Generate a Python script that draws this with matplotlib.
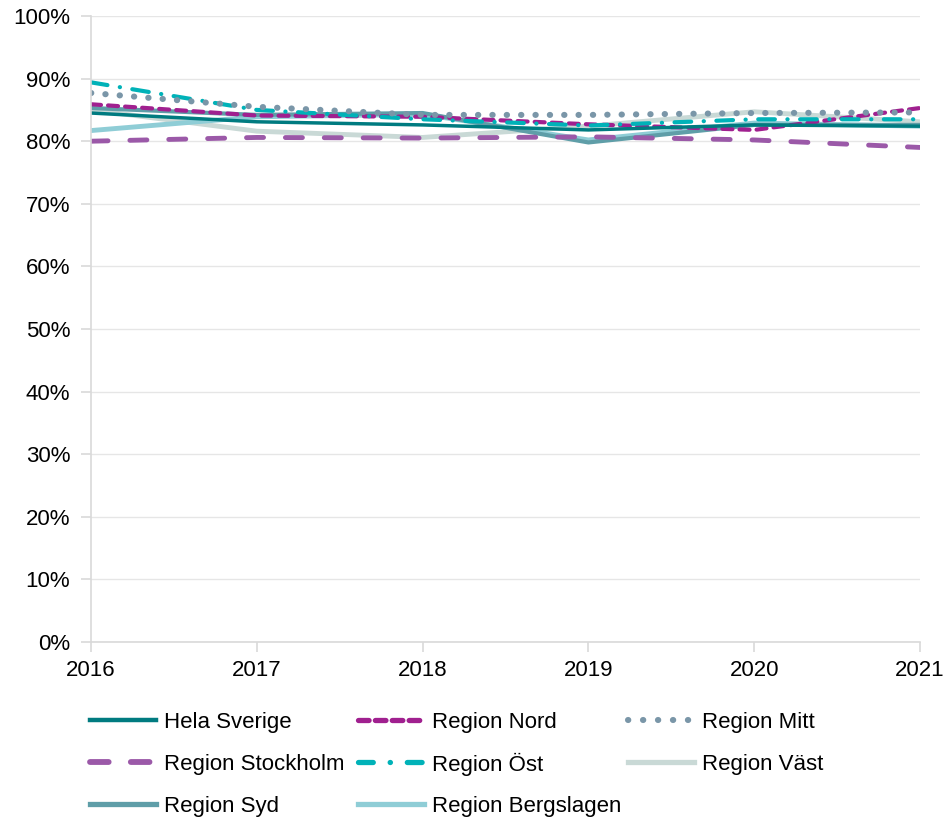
import matplotlib.pyplot as plt
from matplotlib.ticker import FuncFormatter
from matplotlib.lines import Line2D

plt.rcParams['font.family'] = ['Liberation Sans', 'DejaVu Sans']

years = [2016, 2017, 2018, 2019, 2020, 2021]

hela_sverige = [84.5, 83.1, 82.6, 81.8, 82.6, 82.4]
region_nord = [85.9, 84.1, 83.9, 82.7, 81.8, 85.3]
region_mitt = [87.7, 85.5, 84.2, 84.2, 84.5, 84.6]
region_stockholm = [80.0, 80.6, 80.5, 80.7, 80.2, 79.0]
region_ost = [89.4, 85.0, 83.5, 82.5, 83.5, 83.5]
region_vast = [85.0, 81.6, 80.6, 82.4, 84.7, 83.1]
region_syd = [85.3, 84.2, 84.5, 79.8, 82.6, 82.6]
region_bergslagen = [81.7, 83.9, 84.3, 80.2, 82.9, 82.4]

fig = plt.figure(figsize=(9.46, 8.18), dpi=100)
ax = fig.add_axes([91 / 946, 1 - 642 / 818, (920 - 91) / 946, (642 - 16) / 818])

# stilar (färg, linjebredd, streck)
st_hela = dict(color='#007B80', linewidth=2.5)
st_nord = dict(color='#A0208F', linewidth=3.0, dashes=(2.4, 1.7), dash_capstyle='round')
st_mitt = dict(color='#7A96A8', linewidth=4.4, dashes=(0.05, 2.3), dash_capstyle='round')
st_sthlm = dict(color='#9B59A8', linewidth=3.5, dashes=(3.5, 4.5), dash_capstyle='round')
st_ost = dict(color='#00B2B8', linewidth=3.0, dashes=(4.0, 3.0, 0.05, 3.0), dash_capstyle='round')
st_vast = dict(color='#C9D9D6', linewidth=3.5)
st_syd = dict(color='#5F9EA8', linewidth=3.0)
st_berg = dict(color='#8FCDD6', linewidth=3.5)

# ritordning: ljusa linjer först
ax.plot(years, region_vast, **st_vast)
ax.plot(years, region_bergslagen, **st_berg)
ax.plot(years, region_syd, **st_syd)
ax.plot(years, region_stockholm, **st_sthlm)
ax.plot(years, region_nord, **st_nord)
ax.plot(years, region_ost, **st_ost)
ax.plot(years, region_mitt, **st_mitt)
ax.plot(years, hela_sverige, **st_hela)

ax.set_xlim(2016, 2021)
ax.set_ylim(0, 100)
ax.set_xticks(years)
ax.set_yticks(range(0, 101, 10))
ax.yaxis.set_major_formatter(FuncFormatter(lambda v, p: '{:.0f}%'.format(v)))
ax.grid(axis='y', color='#E6E6E6', linewidth=1)
ax.set_axisbelow(True)
for s in ['top', 'right']:
    ax.spines[s].set_visible(False)
ax.spines['left'].set_color('#D9D9D9')
ax.spines['bottom'].set_color('#D9D9D9')
ax.spines['left'].set_linewidth(1.2)
ax.spines['bottom'].set_linewidth(1.2)
ax.tick_params(axis='both', colors='#D9D9D9', labelcolor='black', labelsize=16, length=7, width=1.2)
ax.tick_params(axis='y', pad=8)
ax.tick_params(axis='x', pad=6)

# legend, ritad för hand i tre kolumner
leg_styles = [
    dict(color='#007B80', linewidth=3.2),
    dict(color='#9B59A8', linewidth=4.2, dashes=(3.2, 3.8), dash_capstyle='round'),
    dict(color='#5F9EA8', linewidth=3.8),
    dict(color='#A0208F', linewidth=3.8, dashes=(2.0, 1.2), dash_capstyle='round'),
    dict(color='#00B2B8', linewidth=3.8, dashes=(2.8, 3.2, 0.05, 3.2), dash_capstyle='round'),
    dict(color='#8FCDD6', linewidth=3.8),
    dict(color='#7A96A8', linewidth=4.4, dashes=(0.05, 2.4), dash_capstyle='round'),
    dict(color='#C9D9D6', linewidth=3.8),
]
labels = ['Hela Sverige', 'Region Stockholm', 'Region Syd', 'Region Nord', 'Region Öst',
          'Region Bergslagen', 'Region Mitt', 'Region Väst']

col_x = [90, 358, 628]
row_y = [720, 762, 804]
for i, (st, lab) in enumerate(zip(leg_styles, labels)):
    x0 = col_x[i // 3]
    y0 = row_y[i % 3]
    fig.add_artist(Line2D([x0 / 946, (x0 + 66) / 946], [1 - y0 / 818, 1 - y0 / 818],
                          transform=fig.transFigure, **st))
    fig.text((x0 + 74) / 946, 1 - y0 / 818, lab, fontsize=16, va='center_baseline', ha='left')

fig.savefig('out.png', dpi=100)
